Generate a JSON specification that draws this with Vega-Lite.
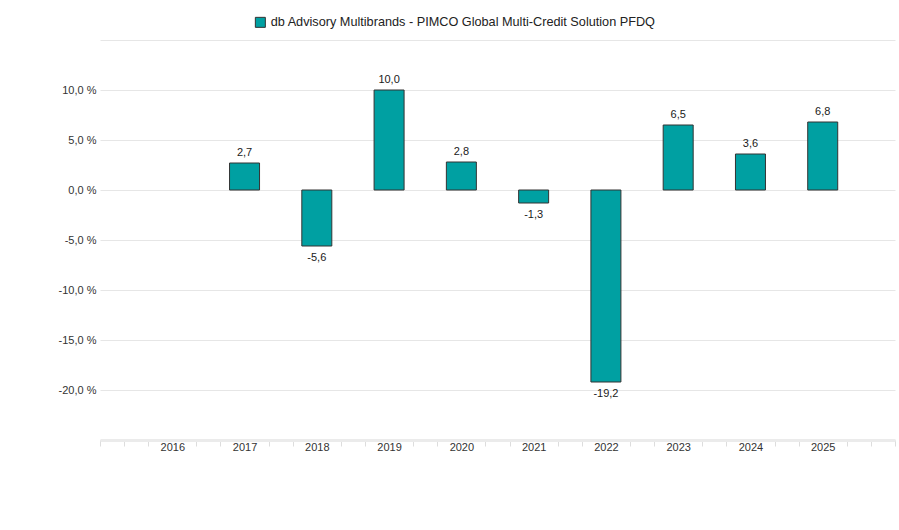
{
  "$schema": "https://vega.github.io/schema/vega-lite/v6.json",
  "width": 795,
  "height": 400,
  "autosize": {"type": "none"},
  "padding": {"left": 100, "top": 40, "right": 4, "bottom": 90},
  "background": "white",
  "config": {
    "font": "Liberation Sans",
    "view": {"stroke": null},
    "locale": {"number": {"decimal": ",", "thousands": ".", "grouping": [3], "currency": ["", " €"], "minus": "-"}}
  },
  "data": {
    "values": [
      {"year": 2017, "value": 2.7, "series": "db Advisory Multibrands - PIMCO Global Multi-Credit Solution PFDQ"},
      {"year": 2018, "value": -5.6, "series": "db Advisory Multibrands - PIMCO Global Multi-Credit Solution PFDQ"},
      {"year": 2019, "value": 10.0, "series": "db Advisory Multibrands - PIMCO Global Multi-Credit Solution PFDQ"},
      {"year": 2020, "value": 2.8, "series": "db Advisory Multibrands - PIMCO Global Multi-Credit Solution PFDQ"},
      {"year": 2021, "value": -1.3, "series": "db Advisory Multibrands - PIMCO Global Multi-Credit Solution PFDQ"},
      {"year": 2022, "value": -19.2, "series": "db Advisory Multibrands - PIMCO Global Multi-Credit Solution PFDQ"},
      {"year": 2023, "value": 6.5, "series": "db Advisory Multibrands - PIMCO Global Multi-Credit Solution PFDQ"},
      {"year": 2024, "value": 3.6, "series": "db Advisory Multibrands - PIMCO Global Multi-Credit Solution PFDQ"},
      {"year": 2025, "value": 6.8, "series": "db Advisory Multibrands - PIMCO Global Multi-Credit Solution PFDQ"}
    ]
  },
  "encoding": {
    "x": {
      "field": "year",
      "type": "quantitative",
      "scale": {"domain": [2015, 2026], "nice": false, "zero": false, "padding": 0},
      "axis": {
        "title": null,
        "grid": false,
        "values": [2015, 2015.3333, 2015.6667, 2016, 2016.3333, 2016.6667, 2017, 2017.3333, 2017.6667, 2018, 2018.3333, 2018.6667, 2019, 2019.3333, 2019.6667, 2020, 2020.3333, 2020.6667, 2021, 2021.3333, 2021.6667, 2022, 2022.3333, 2022.6667, 2023, 2023.3333, 2023.6667, 2024, 2024.3333, 2024.6667, 2025, 2025.3333, 2025.6667, 2026],
        "labelExpr": "(datum.value == round(datum.value) && datum.value >= 2016 && datum.value <= 2025) ? ('' + datum.value) : ''",
        "labelOverlap": false,
        "labelFontSize": 11,
        "labelColor": "#333333",
        "labelPadding": -5,
        "labelBaseline": "top",
        "domainColor": "#ebebeb",
        "domainWidth": 3,
        "tickColor": "#dddddd",
        "tickSize": 6,
        "tickWidth": 1,
        "tickOpacity": {"condition": {"test": "datum.value == round(datum.value) && datum.value >= 2016 && datum.value <= 2025", "value": 0}, "value": 1}
      }
    },
    "y": {
      "field": "value",
      "type": "quantitative",
      "scale": {"domain": [-25, 15], "nice": false, "padding": 0},
      "axis": {
        "title": null,
        "values": [-25, -20, -15, -10, -5, 0, 5, 10, 15],
        "format": ".1f",
        "labelExpr": "(datum.value > 12 || datum.value < -22) ? '' : datum.label + ' %'",
        "labelFontSize": 11,
        "labelColor": "#333333",
        "labelPadding": 4,
        "ticks": false,
        "domain": false,
        "gridColor": "#e6e6e6",
        "gridWidth": 1
      }
    }
  },
  "layer": [
    {
      "mark": {"type": "bar", "size": 30, "stroke": "#333333", "strokeWidth": 1},
      "encoding": {
        "color": {
          "field": "series",
          "type": "nominal",
          "scale": {"range": ["#00A0A2"]},
          "legend": {
            "title": null,
            "orient": "none",
            "legendX": 154,
            "legendY": -24,
            "padding": 0,
            "symbolType": "square",
            "symbolSize": 100,
            "symbolStrokeColor": "#333333",
            "symbolStrokeWidth": 1,
            "symbolOpacity": 1,
            "labelFontSize": 12.7,
            "labelColor": "#222222",
            "labelOffset": 4,
            "labelLimit": 700
          }
        }
      }
    },
    {
      "transform": [{"filter": "datum.value >= 0"}],
      "mark": {"type": "text", "baseline": "alphabetic", "dy": -7, "fontSize": 11, "color": "#1a1a1a"},
      "encoding": {"text": {"field": "value", "type": "quantitative", "format": ".1f"}}
    },
    {
      "transform": [{"filter": "datum.value < 0"}],
      "mark": {"type": "text", "baseline": "top", "dy": 6, "fontSize": 11, "color": "#1a1a1a"},
      "encoding": {"text": {"field": "value", "type": "quantitative", "format": ".1f"}}
    }
  ]
}
